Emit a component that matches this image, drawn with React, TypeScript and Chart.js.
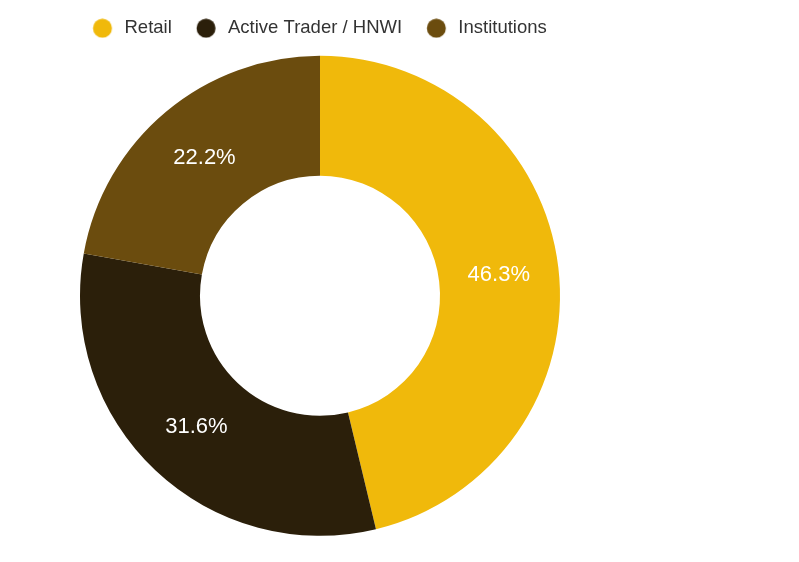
import { useEffect, useRef } from "react";
import { Chart, registerables } from "chart.js";

Chart.register(...registerables);

const categories: string[] = ["Retail", "Active Trader / HNWI", "Institutions"];
const shares: number[] = [46.3, 31.6, 22.2];
const colors: string[] = ["#F0B90B", "#2B1F0A", "#6B4C0E"];

const FONT = "'Liberation Sans', Arial, Helvetica, sans-serif";

function makeDot(color: string): HTMLCanvasElement {
  const c = document.createElement("canvas");
  c.width = 24;
  c.height = 20;
  const ctx = c.getContext("2d")!;
  ctx.fillStyle = color;
  ctx.beginPath();
  ctx.arc(10.25, 10, 9.5, 0, Math.PI * 2);
  ctx.fill();
  return c;
}

const percentLabels = {
  id: "percentLabels",
  afterDatasetsDraw(chart: any) {
    const ctx = chart.ctx;
    const meta = chart.getDatasetMeta(0);
    const values = chart.data.datasets[0].data as number[];
    ctx.save();
    ctx.fillStyle = "#ffffff";
    ctx.font = `22px ${FONT}`;
    ctx.textAlign = "center";
    ctx.textBaseline = "middle";
    meta.data.forEach((arc: any, i: number) => {
      const p = arc.tooltipPosition(false);
      ctx.fillText(`${values[i].toFixed(1)}%`, p.x, p.y);
    });
    ctx.restore();
  },
};

export default function App() {
  const ref = useRef<HTMLCanvasElement | null>(null);

  useEffect(() => {
    if (!ref.current) return;
    const dots = colors.map(makeDot);
    const chart = new Chart(ref.current, {
      type: "doughnut",
      data: {
        labels: categories,
        datasets: [
          {
            data: shares,
            backgroundColor: colors,
            borderWidth: 0,
            hoverOffset: 0,
            radius: 240,
            cutout: "50%",
          } as any,
        ],
      },
      options: {
        responsive: true,
        maintainAspectRatio: false,
        animation: false,
        layout: { padding: 0 },
        plugins: {
          tooltip: { enabled: false },
          legend: {
            position: "top",
            labels: {
              usePointStyle: true,
              pointStyleWidth: 22,
              padding: 25,
              color: "#333333",
              font: { size: 18.5, family: FONT },
              generateLabels: (c: any) => {
                const base = (Chart as any).overrides.doughnut.plugins.legend.labels.generateLabels(c);
                return base.map((it: any, i: number) => ({ ...it, pointStyle: dots[i], lineWidth: 0 }));
              },
            },
          },
        },
      } as any,
      plugins: [percentLabels],
    });
    return () => chart.destroy();
  }, []);

  return (
    <div style={{ position: "relative", top: "-14.5px", width: "624px", height: "550px" }}>
      <canvas ref={ref} />
    </div>
  );
}
